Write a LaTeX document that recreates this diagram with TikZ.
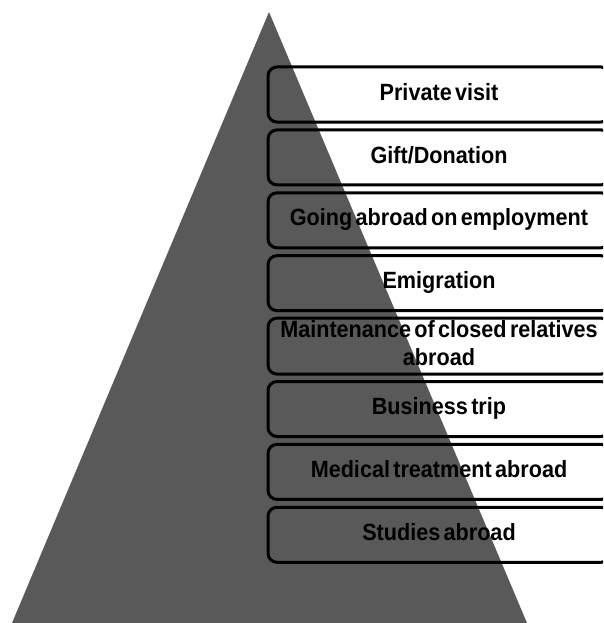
\documentclass[tikz,border=0pt]{standalone}
\usepackage{fontspec}
\usepackage{graphicx}
\setmainfont{Liberation Sans}[WordSpace=0.55]
\definecolor{pyr}{RGB}{89,89,89}
\newcommand{\sqtext}[1]{\scalebox{0.92}[1]{\begin{tabular}{@{}c@{}}#1\end{tabular}}}
\begin{document}
\begin{tikzpicture}[x=1pt,y=-1pt,
  itembox/.style={draw=black, line width=3pt, rounded corners=9pt,
    minimum width=342pt, minimum height=55pt, inner sep=0pt,
    font=\fontsize{23.5}{28}\selectfont\bfseries}]
\useasboundingbox (0,0) rectangle (603,623);
\clip (0,0) rectangle (603,623);
\fill[pyr] (269,12) -- (527,623) -- (12,623) -- cycle;
\node[itembox] (b1) at (439,94.5) {\sqtext{Private visit}};
\node[itembox] (b2) at (439,157.4) {\sqtext{Gift/Donation}};
\node[itembox] (b3) at (439,220.3) {\sqtext{Going abroad on employment}};
\node[itembox] (b4) at (439,283.2) {\sqtext{Emigration}};
\node[itembox] (b5) at (439,346.1) {\sqtext{Maintenance of closed relatives\\abroad}};
\node[itembox] (b6) at (439,409.0) {\sqtext{Business trip}};
\node[itembox] (b7) at (439,471.9) {\sqtext{Medical treatment abroad}};
\node[itembox] (b8) at (439,534.8) {\sqtext{Studies abroad}};
\end{tikzpicture}
\end{document}
